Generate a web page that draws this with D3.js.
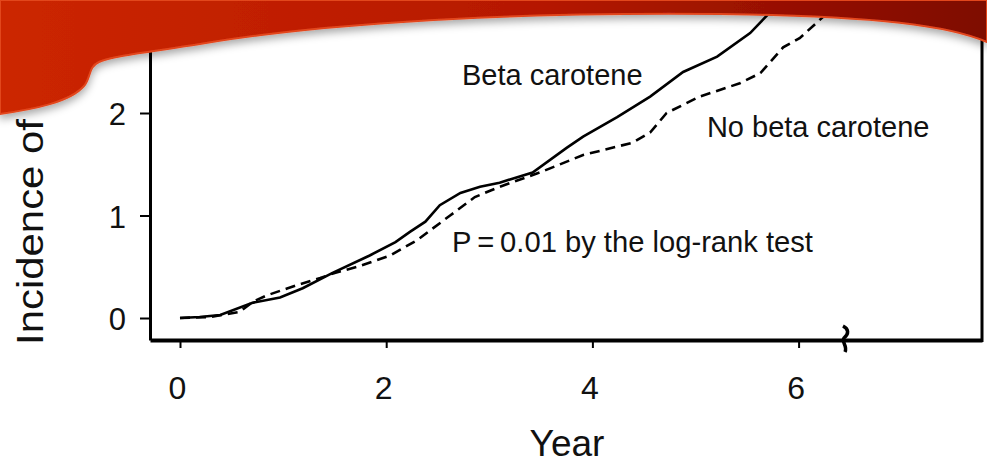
<!DOCTYPE html>
<html>
<head>
<meta charset="utf-8">
<script src="https://cdn.jsdelivr.net/npm/d3@7"></script>
<style>
  body { margin: 0; background: #fff; }
  svg { display: block; font-family: "Liberation Sans", Arial, Helvetica, sans-serif; }
</style>
</head>
<body>
<script>
// curves (year, cumulative incidence)
const betaYears = [0, 0.19, 0.39, 0.71, 0.97, 1.19, 1.48, 1.84, 2.09, 2.23, 2.38, 2.52, 2.72, 2.91, 3.10, 3.42, 3.75, 3.91, 4.24, 4.56, 4.88, 5.21, 5.53, 5.72, 5.87]
const betaIncidence = [0, 0.01, 0.03, 0.15, 0.20, 0.29, 0.44, 0.61, 0.74, 0.84, 0.94, 1.10, 1.22, 1.28, 1.32, 1.42, 1.66, 1.77, 1.96, 2.16, 2.40, 2.55, 2.78, 2.98, 3.15]
const noBetaYears = [0, 0.29, 0.58, 0.71, 0.84, 1.13, 1.36, 1.50, 1.72, 2.04, 2.30, 2.62, 2.86, 3.10, 3.49, 3.91, 4.39, 4.56, 4.72, 5.04, 5.43, 5.63, 5.85, 6.01, 6.24, 6.35]
const noBetaIncidence = [0, 0.01, 0.06, 0.16, 0.22, 0.32, 0.39, 0.44, 0.50, 0.61, 0.76, 1.00, 1.18, 1.28, 1.42, 1.59, 1.71, 1.81, 2.00, 2.16, 2.29, 2.39, 2.64, 2.73, 2.94, 3.06]
const xTicks = [0, 2, 4, 6]
const yTicks = [0, 1, 2]
const breakYear = 6.45

const W = 987, H = 464
const svg = d3.select("body").append("svg").attr("width", W).attr("height", H)

const x = d3.scaleLinear().domain([-0.291, 7.779]).range([150, 982])
const y = d3.scaleLinear().domain([-0.2146, 3.2]).range([340, -10])

// frame: left, bottom, right
const yAxis = d3.axisLeft(y).tickValues(yTicks).tickFormat(d3.format("d"))
    .tickSize(10).tickSizeOuter(0).tickPadding(14)
const gy = svg.append("g").attr("transform", "translate(150,0)").call(yAxis)
gy.select(".domain").attr("stroke", "#000").attr("stroke-width", 3)
gy.selectAll(".tick line").attr("stroke", "#000").attr("stroke-width", 2)
gy.selectAll(".tick text").attr("font-size", 31).attr("fill", "#111").attr("font-family", null).attr("dy", "0.38em")

const xAxis = d3.axisBottom(x).tickValues(xTicks).tickFormat(d3.format("d"))
    .tickSize(8).tickSizeOuter(0).tickPadding(28)
const gx = svg.append("g").attr("transform", "translate(0,340)").call(xAxis)
gx.select(".domain").attr("stroke", "#000").attr("stroke-width", 4)
gx.selectAll(".tick line").attr("stroke", "#000").attr("stroke-width", 2)
gx.selectAll(".tick text").attr("font-size", 32).attr("fill", "#111").attr("font-family", null).attr("dx", -3)

svg.append("line")
    .attr("x1", 982).attr("x2", 982)
    .attr("y1", 0).attr("y2", 342)
    .attr("stroke", "#000").attr("stroke-width", 3)

// axis break mark
const bx = x(breakYear)
svg.append("path")
    .attr("d", `M${bx - 2},326 C${bx + 4},329 ${bx + 4},334 ${bx - 1},338 C${bx - 4},342 ${bx + 3},346 ${bx},352`)
    .attr("fill", "none").attr("stroke", "#000").attr("stroke-width", 3.5)

const line = d3.line().x(d => x(d[0])).y(d => y(d[1]))

svg.append("path")
    .datum(betaYears.map((t, i) => [t, betaIncidence[i]]))
    .attr("d", line)
    .attr("fill", "none").attr("stroke", "#000").attr("stroke-width", 2.6)

svg.append("path")
    .datum(noBetaYears.map((t, i) => [t, noBetaIncidence[i]]))
    .attr("d", line)
    .attr("fill", "none").attr("stroke", "#000").attr("stroke-width", 2.6)
    .attr("stroke-dasharray", "10,6")

// labels
svg.append("text").attr("x", x(2.735)).attr("y", y(2.273))
    .attr("font-size", 29).attr("fill", "#111").text("Beta carotene")
svg.append("text").attr("x", x(5.111)).attr("y", y(1.766))
    .attr("font-size", 29).attr("fill", "#111").text("No beta carotene")
svg.append("text").attr("x", x(2.638)).attr("y", y(0.644))
    .attr("font-size", 29).attr("fill", "#111")
    .attr("textLength", 361).attr("lengthAdjust", "spacingAndGlyphs")
    .text("P\u2009=\u20090.01 by the log-rank test")

svg.append("text")
    .attr("x", 567).attr("y", 456)
    .attr("text-anchor", "middle")
    .attr("font-size", 37).attr("fill", "#111")
    .text("Year")

svg.append("text")
    .attr("transform", "translate(43,345) rotate(-90)")
    .attr("font-size", 36).attr("fill", "#111")
    .attr("textLength", 226).attr("lengthAdjust", "spacingAndGlyphs")
    .text("Incidence of")

// slide decoration (red swoosh)
const defs = svg.append("defs")
const grad = defs.append("linearGradient").attr("id", "red").attr("x1", "0%").attr("x2", "100%")
grad.append("stop").attr("offset", "0%").attr("stop-color", "#cc2600")
grad.append("stop").attr("offset", "55%").attr("stop-color", "#b51800")
grad.append("stop").attr("offset", "100%").attr("stop-color", "#7e0a04")
const shadow = defs.append("filter").attr("id", "shadow").attr("x", "-5%").attr("y", "-20%").attr("width", "110%").attr("height", "160%")
shadow.append("feDropShadow").attr("dx", 0).attr("dy", 4).attr("stdDeviation", 4)
    .attr("flood-color", "#000").attr("flood-opacity", 0.35)

svg.append("path")
    .attr("d", "M0,0 H987 V42 C950,26 880,16 720,14 C520,12 330,22 200,44 C150,52 112,56 99,62 C88,67 91,78 84,86 C70,102 35,109 0,114 Z")
    .attr("fill", "url(#red)")
    .attr("stroke", "#e2461f").attr("stroke-width", 2)
    .attr("filter", "url(#shadow)")
</script>
</body>
</html>
